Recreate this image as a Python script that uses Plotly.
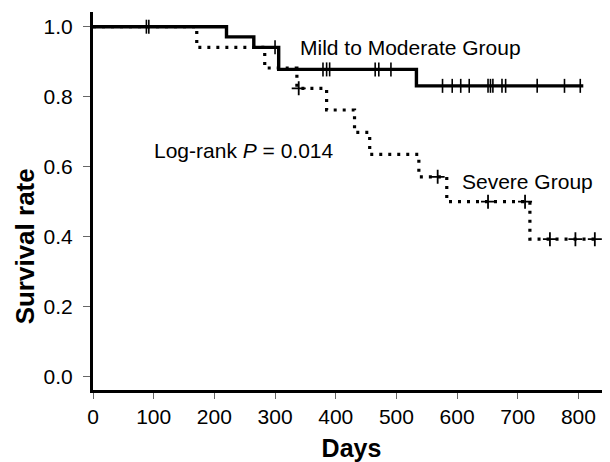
import numpy as np
import plotly.graph_objects as go

# Kaplan-Meier step data
mild_days = [0, 220, 265, 306, 533, 808]
mild_surv = [1.0, 0.971, 0.941, 0.878, 0.831, 0.831]
mild_censor_days = [88, 92, 300, 379, 385, 390, 465, 471, 491, 576, 592, 606, 620,
                    651, 655, 659, 674, 680, 732, 777, 803]

severe_days = [0, 171, 283, 336, 385, 431, 456, 537, 583, 720, 830]
severe_surv = [1.0, 0.941, 0.882, 0.824, 0.762, 0.698, 0.635, 0.571, 0.500, 0.393, 0.393]
severe_censor_days = [339, 568, 651, 712, 753, 795, 827]

x_ticks = [0, 100, 200, 300, 400, 500, 600, 700, 800]
y_ticks = [0.0, 0.2, 0.4, 0.6, 0.8, 1.0]
y_tick_labels = ["0.0", "0.2", "0.4", "0.6", "0.8", "1.0"]


def step_value(days, surv, t):
    idx = np.searchsorted(np.array(days), np.array(t), side="right") - 1
    return list(np.array(surv)[idx])


FONT = "Arial, Liberation Sans, sans-serif"

fig = go.Figure()
fig.add_trace(go.Scatter(
    x=severe_days, y=severe_surv, mode="lines", line_shape="hv",
    line=dict(color="black", width=3.2, dash="3px,6px"), hoverinfo="skip"))
fig.add_trace(go.Scatter(
    x=severe_censor_days, y=step_value(severe_days, severe_surv, severe_censor_days),
    mode="markers", marker=dict(symbol="cross-thin", size=10,
                                line=dict(color="black", width=1.8)), hoverinfo="skip"))
fig.add_trace(go.Scatter(
    x=mild_days, y=mild_surv, mode="lines", line_shape="hv",
    line=dict(color="black", width=3.4), hoverinfo="skip"))
fig.add_trace(go.Scatter(
    x=mild_censor_days, y=step_value(mild_days, mild_surv, mild_censor_days),
    mode="markers", marker=dict(symbol="line-ns", size=10,
                                line=dict(color="black", width=1.6)), hoverinfo="skip"))

ann_font = dict(family=FONT, size=21, color="black")
fig.add_annotation(x=338, y=0.94, text="Mild to Moderate Group", showarrow=False,
                   xanchor="left", yanchor="middle", font=ann_font)
fig.add_annotation(x=97, y=0.645, text="Log-rank <i>P</i> = 0.014", showarrow=False,
                   xanchor="left", yanchor="middle", font=ann_font)
fig.add_annotation(x=604, y=0.557, text="Severe Group", showarrow=False,
                   xanchor="left", yanchor="middle", font=ann_font)
fig.add_annotation(xref="paper", yref="paper", x=-0.1315, y=0.38,
                   text="<b>Survival rate</b>", textangle=-90, showarrow=False,
                   xanchor="center", yanchor="middle",
                   font=dict(family=FONT, size=26, color="black"))

# The page body adds an 8px offset; margins compensate so the plot area
# lands where the reference has it.
fig.update_layout(
    width=610, height=462,
    margin=dict(l=85, r=8, t=4, b=80, autoexpand=False),
    plot_bgcolor="white", paper_bgcolor="white",
    showlegend=False,
    font=dict(family=FONT, color="black"),
    xaxis=dict(range=[0, 852], tickvals=x_ticks, ticks="outside", ticklen=6,
               tickcolor="#666", tickwidth=1, showline=True, linecolor="black",
               linewidth=3, showgrid=False, zeroline=False, automargin=False,
               tickfont=dict(family=FONT, size=21),
               title=dict(text="<b>Days</b>", font=dict(family=FONT, size=25),
                          standoff=13)),
    yaxis=dict(range=[-0.038, 1.042], tickvals=y_ticks, ticktext=y_tick_labels,
               ticks="outside", ticklen=7, tickcolor="#666", tickwidth=1,
               ticklabelstandoff=6, automargin=False,
               showline=True, linecolor="black", linewidth=3, showgrid=False,
               zeroline=False, tickfont=dict(family=FONT, size=21)),
)

fig.write_html("out.html")
